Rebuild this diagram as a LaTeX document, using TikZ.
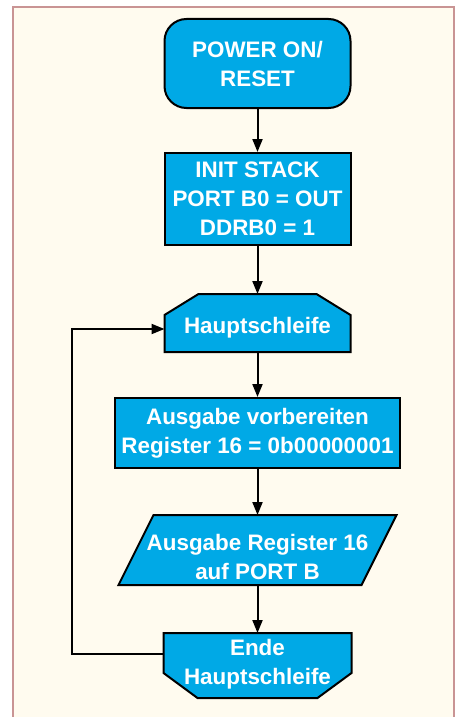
\documentclass[tikz,border=0pt]{standalone}
\usepackage{fontspec}
\setmainfont{Liberation Sans}
\usetikzlibrary{arrows.meta,calc}
\definecolor{boxblue}{HTML}{00A9E6}
\definecolor{framecol}{HTML}{C99494}
\definecolor{cream}{HTML}{FFFBEF}
\begin{document}
\begin{tikzpicture}[x=1pt,y=-1pt,
  txt/.style={text=white, font=\bfseries\fontsize{22.4}{29}\selectfont, align=center, inner sep=0pt},
  boxshape/.style={draw=black, line width=2pt, fill=boxblue},
  frame/.style={inner sep=0pt, outer sep=0pt},
  arr/.style={line width=2pt, -{Triangle[length=13pt,width=10pt]}},
  conn/.style={line width=2pt}]
\useasboundingbox (0,0) rectangle (458,717);
\fill[cream] (13,7) rectangle (454,717);
\draw[framecol, line width=2.5pt] (13,717) -- (13,7) -- (454,7) -- (454,717);

% start
\node[boxshape, rounded corners=22pt, minimum width=186pt, minimum height=89pt, txt] (start) at (257.5,63.5) {POWER ON/\\RESET};
% init
\node[boxshape, minimum width=186pt, minimum height=92pt, txt] (init) at (257.5,199) {INIT STACK\\PORT B0 = OUT\\DDRB0 = 1};
% loop start
\node[frame, minimum width=186pt, minimum height=58pt] (loopstart) at (257.5,323) {};
\draw[boxshape] ($(loopstart.north west)+(34,0)$) -- ($(loopstart.north east)+(-34,0)$) -- ($(loopstart.north east)+(0,21)$) -- (loopstart.south east) -- (loopstart.south west) -- ($(loopstart.north west)+(0,21)$) -- cycle;
\node[txt, anchor=base] (loopstarttext) at (257.5,333) {Hauptschleife};
% prepare
\node[boxshape, minimum width=285pt, minimum height=70pt, txt] (prep) at (257.5,433) {Ausgabe vorbereiten\\Register 16 = 0b00000001};
% output
\node[frame, minimum width=243pt, minimum height=70pt] (out) at (257.5,550) {};
\draw[boxshape] ($(out.north west)+(17.5,0)$) -- ($(out.north east)+(17.5,0)$) -- ($(out.south east)+(-17.5,0)$) -- ($(out.south west)+(-17.5,0)$) -- cycle;
\node[txt] (outtext) at (257.5,557) {Ausgabe Register 16\\auf PORT B};
% loop end
\node[frame, minimum width=188pt, minimum height=65pt] (loopend) at (257.5,665.5) {};
\draw[boxshape] (loopend.north west) -- (loopend.north east) -- ($(loopend.north east)+(0,40)$) -- ($(loopend.south east)+(-34,0)$) -- ($(loopend.south west)+(34,0)$) -- ($(loopend.north west)+(0,40)$) -- cycle;
\node[txt] (loopendtext) at (257.5,664) {Ende\\Hauptschleife};

% connectors
\draw[arr] (start.south) -- (init.north);
\draw[arr] (init.south) -- (loopstart.north);
\draw[arr] (loopstart.south) -- (prep.north);
\draw[arr] (prep.south) -- (out.north);
\draw[arr] (out.south) -- (loopend.north);
\coordinate (lb) at (72,654);
\coordinate (lt) at (72,329);
\draw[arr] ($(loopend.north west)+(0,21)$) -- (lb) -- (lt) -- (lt -| loopstart.west);
\end{tikzpicture}
\end{document}
